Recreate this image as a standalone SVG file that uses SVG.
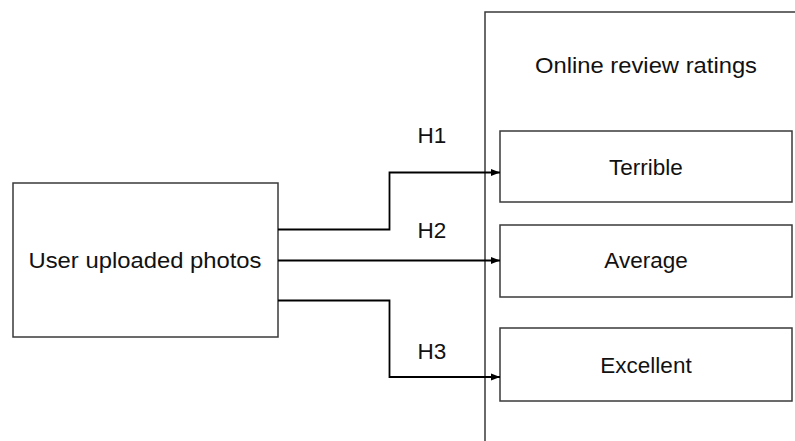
<svg xmlns="http://www.w3.org/2000/svg" width="795" height="441" viewBox="0 0 795 441">
<style>
.box{fill:#fff;stroke:#3a3a3a;stroke-width:1.5}
.t{font-family:"Liberation Sans",Arial,sans-serif;font-size:22.5px;fill:#111;text-anchor:middle}
.c{fill:none;stroke:#000;stroke-width:1.8}
</style>
<defs>
<marker id="arr" markerWidth="10" markerHeight="8" refX="9" refY="4" orient="auto" markerUnits="userSpaceOnUse">
<path d="M0,0.5 L9,4 L0,7.5 Z" fill="#000"/>
</marker>
</defs>
<rect width="795" height="441" fill="#fff"/>
<g id="ratings-container">
<path class="box" d="M795,12 L485,12 L485,441"/>
<text class="t" x="646" y="73" textLength="222" lengthAdjust="spacingAndGlyphs">Online review ratings</text>
</g>
<g id="photos">
<rect class="box" x="13" y="183" width="265" height="154"/>
<text class="t" x="145" y="268" textLength="233" lengthAdjust="spacingAndGlyphs">User uploaded photos</text>
</g>
<g id="terrible">
<rect class="box" x="500" y="131" width="292" height="71"/>
<text class="t" x="646" y="175">Terrible</text>
</g>
<g id="average">
<rect class="box" x="500" y="225" width="292" height="72"/>
<text class="t" x="646" y="268">Average</text>
</g>
<g id="excellent">
<rect class="box" x="500" y="328" width="292" height="73"/>
<text class="t" x="646" y="373">Excellent</text>
</g>
<g id="connectors">
<path class="c" d="M278,229.5 L389.5,229.5 L389.5,172.5 L500,172.5" marker-end="url(#arr)"/>
<path class="c" d="M278,260.5 L500,260.5" marker-end="url(#arr)"/>
<path class="c" d="M278,300.5 L389.5,300.5 L389.5,377 L500,377" marker-end="url(#arr)"/>
<text class="t" x="432" y="143">H1</text>
<text class="t" x="432" y="238">H2</text>
<text class="t" x="432" y="359">H3</text>
</g>
</svg>
